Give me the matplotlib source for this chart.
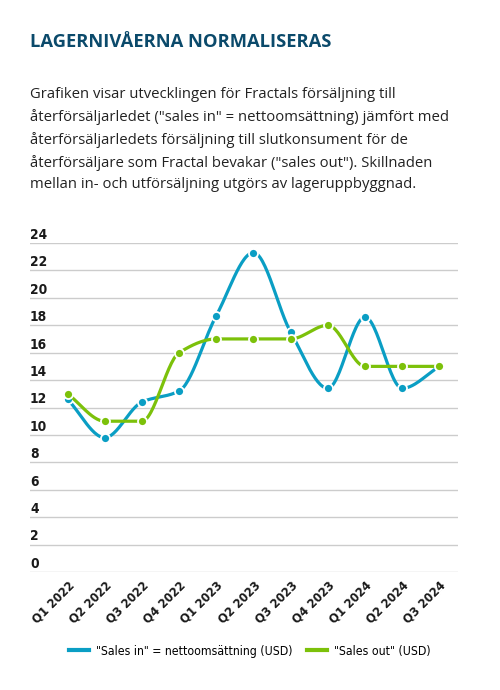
import numpy as np
import matplotlib
matplotlib.use("Agg")
import matplotlib.pyplot as plt
from matplotlib import font_manager
from matplotlib.lines import Line2D

quarters = ["Q1 2022", "Q2 2022", "Q3 2022", "Q4 2022", "Q1 2023", "Q2 2023",
            "Q3 2023", "Q4 2023", "Q1 2024", "Q2 2024", "Q3 2024"]
sales_in = [12.6, 9.8, 12.4, 13.2, 18.7, 23.3, 17.5, 13.4, 18.6, 13.4, 15.0]
sales_out = [13, 11, 11, 16, 17, 17, 17, 18, 15, 15, 15]
yticks = list(range(0, 25, 2))

title = "LAGERNIVÅERNA NORMALISERAS"
body = ("Grafiken visar utvecklingen för Fractals försäljning till\n"
        "återförsäljarledet (\"sales in\" = nettoomsättning) jämfört med\n"
        "återförsäljarledets försäljning till slutkonsument för de\n"
        "återförsäljare som Fractal bevakar (\"sales out\"). Skillnaden\n"
        "mellan in- och utförsäljning utgörs av lageruppbyggnad.")
labels = ["\"Sales in\" = nettoomsättning (USD)", "\"Sales out\" (USD)"]

BLUE = "#0a9ec4"
GREEN = "#7cc10a"
TITLE_C = "#0b4a6b"


def find_narrow(bold):
    # look for a condensed / narrow face among installed fonts
    cands = []
    for f in font_manager.fontManager.ttflist:
        fn = f.fname.lower()
        if ("narrow" in fn or "condensed" in fn) and "mono" not in fn and "serif" not in fn.replace("sans", ""):
            isbold = "bold" in fn
            if isbold == bold and "oblique" not in fn and "italic" not in fn:
                cands.append(f.fname)
    if cands:
        return font_manager.FontProperties(fname=sorted(cands)[0])
    return font_manager.FontProperties(family="Roboto", weight="bold" if bold else "normal")


nb = find_narrow(True)
nr = find_narrow(False)


def monotone(y, n=30):
    # monotone cubic (Fritsch-Carlson), like d3 curveMonotoneX
    y = np.asarray(y, float)
    x = np.arange(len(y), dtype=float)
    d = np.diff(y)
    m = np.zeros(len(y))
    m[0], m[-1] = d[0], d[-1]
    for i in range(1, len(y) - 1):
        if d[i - 1] * d[i] <= 0:
            m[i] = 0
        else:
            m[i] = 2 / (1 / d[i - 1] + 1 / d[i])
    xs, ys = [], []
    for i in range(len(y) - 1):
        t = np.linspace(0, 1, n)
        h00 = 2 * t**3 - 3 * t**2 + 1
        h10 = t**3 - 2 * t**2 + t
        h01 = -2 * t**3 + 3 * t**2
        h11 = t**3 - t**2
        xs.append(x[i] + t)
        ys.append(h00 * y[i] + h10 * m[i] + h01 * y[i + 1] + h11 * m[i + 1])
    return np.concatenate(xs), np.concatenate(ys)


fig = plt.figure(figsize=(5, 6.9), dpi=100)
W, H = 500, 690

fig.text(30 / W, 1 - 42 / H, title, fontsize=13.2, fontweight="bold",
         color=TITLE_C, family="Open Sans", va="center")
fig.text(30 / W, 1 - 87 / H, body, fontsize=10.7, color="#222222",
         family="Open Sans", va="top", linespacing=1.58)

ax = fig.add_axes([30 / W, 1 - 572 / H, 428 / W, 329 / H])
ax.set_xlim(-1.01, 10.5)
ax.set_ylim(0, 24)
for s in ax.spines.values():
    s.set_visible(False)
ax.set_yticks(yticks)
ax.yaxis.grid(True, color="#cccccc", linewidth=1)
ax.set_axisbelow(True)
ax.tick_params(axis="y", length=0, labelleft=False)
for v in yticks:
    t = ax.text(0, v + 0.3, str(v), transform=ax.get_yaxis_transform(),
                fontproperties=nb, color="#1a1a1a", va="baseline", ha="left")
    t.set_fontsize(9.8)

x = np.arange(len(quarters))
for vals, c in [(sales_in, BLUE), (sales_out, GREEN)]:
    sx, sy = monotone(vals)
    ax.plot(sx, sy, color=c, lw=2.3, solid_capstyle="round", clip_on=False)
    ax.plot(x, vals, "o", color=c, ms=6.5, mec="white", mew=1.3, clip_on=False)

ax.set_xticks(x)
ax.set_xticklabels(quarters, rotation=45, ha="right", va="top",
                   rotation_mode="anchor", fontproperties=nb, color="#1a1a1a")
for t in ax.get_xticklabels():
    t.set_fontsize(9.3)
ax.tick_params(axis="x", length=0, pad=5)

handles = [Line2D([], [], color=BLUE, lw=3), Line2D([], [], color=GREEN, lw=3)]
prop = nr.copy()
prop.set_size(8.8)
fig.legend(handles, labels, loc="center", bbox_to_anchor=(250 / W, 1 - 651 / H),
           ncol=2, frameon=False, prop=prop,
           handlelength=1.6, handletextpad=0.6, columnspacing=1.2)

fig.savefig("out.png", dpi=100)
